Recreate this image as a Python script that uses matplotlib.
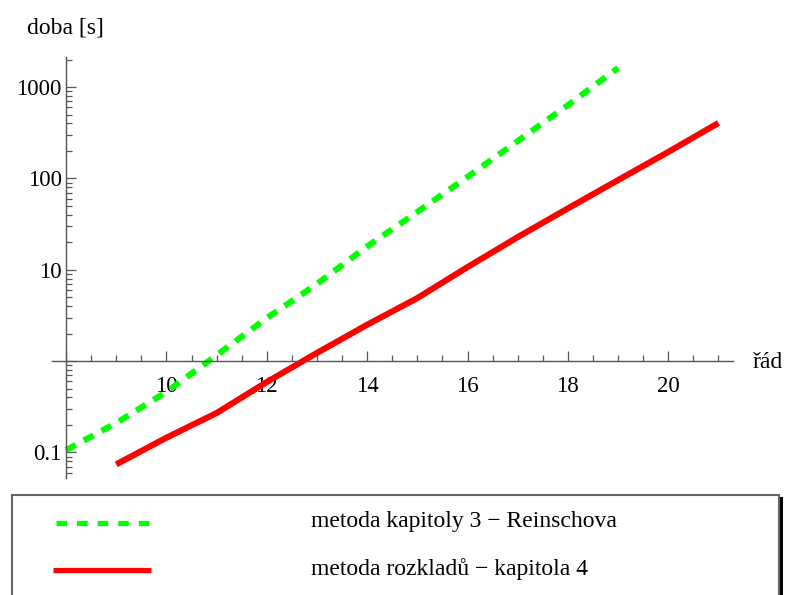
import matplotlib.pyplot as plt
import matplotlib.ticker as ticker
from matplotlib.lines import Line2D
from matplotlib.patches import Rectangle

plt.rcParams['font.family'] = ['Liberation Serif', 'DejaVu Serif']

# doba vypoctu v zavislosti na radu
rad_reinsch = [8, 9, 10, 11, 12, 13, 14, 15, 16, 17, 18, 19]
doba_reinsch = [0.106, 0.21, 0.46, 1.16, 2.96, 7.0, 18, 43, 104, 257, 635, 1620]

rad_rozklad = [9, 10, 11, 12, 13, 14, 15, 16, 17, 18, 19, 20, 21]
doba_rozklad = [0.074, 0.145, 0.27, 0.59, 1.23, 2.5, 4.9, 10.7, 22.8, 47, 96, 195, 405]

popisky = ["metoda kapitoly 3 \u2212 Reinschova", "metoda rozkladů \u2212 kapitola 4"]
zelena = '#00ff00'
cervena = '#ff0000'
osy = '#555555'

fig = plt.figure(figsize=(7.85, 5.95), dpi=100)
ax = fig.add_axes([52 / 785, 1 - 478 / 595, 681 / 785, 421 / 595])

ax.plot(rad_reinsch, doba_reinsch, color=zelena, lw=4.4, dashes=(1.8, 1.5),
        dash_capstyle='butt', solid_capstyle='butt', clip_on=False)
ax.plot(rad_rozklad, doba_rozklad, color=cervena, lw=4.4,
        solid_capstyle='butt', clip_on=False)

ax.set_yscale('log')
ax.set_xlim(7.72, 21.29)
ax.set_ylim(10 ** -1.28, 10 ** 3.33)

for s in ['top', 'right']:
    ax.spines[s].set_visible(False)
ax.spines['left'].set_position(('data', 8))
ax.spines['bottom'].set_position(('data', 1))
for s in ['left', 'bottom']:
    ax.spines[s].set_color(osy)
    ax.spines[s].set_linewidth(1.0)

ax.xaxis.set_major_locator(ticker.FixedLocator([8, 10, 12, 14, 16, 18, 20]))
ax.xaxis.set_minor_locator(ticker.MultipleLocator(0.5))
ax.xaxis.set_major_formatter(ticker.FuncFormatter(lambda v, p: '' if v == 8 else '%d' % v))
ax.yaxis.set_major_locator(ticker.FixedLocator([0.1, 1, 10, 100, 1000]))
ax.yaxis.set_minor_locator(ticker.LogLocator(base=10, subs=range(2, 10)))
ax.yaxis.set_major_formatter(ticker.FixedFormatter(['0.1', '', '10', '100', '1000']))
ax.yaxis.set_minor_formatter(ticker.NullFormatter())

ax.tick_params(which='both', direction='in', color=osy, labelsize=16.5, width=0.9)
ax.tick_params(which='major', length=7)
ax.tick_params(which='minor', length=4)
ax.tick_params(axis='x', pad=11)
ax.tick_params(axis='y', pad=3)

fig.text(27 / 785, 1 - 28 / 595, 'doba [s]', fontsize=17, va='center', ha='left')
fig.text(753 / 785, 1 - 362 / 595, 'řád', fontsize=17, va='center', ha='left')

# legenda pod grafem
fig.add_artist(Rectangle((782 / 785 - 3 / 785, -0.05), 4 / 785, 1 - 497 / 595 + 0.05,
                         transform=fig.transFigure, color='black', lw=0))
fig.add_artist(Rectangle((12 / 785, -0.05), 767 / 785, 1 - 495 / 595 + 0.05,
                         transform=fig.transFigure, facecolor='white',
                         edgecolor='#666666', lw=1.5))
fig.add_artist(Line2D([56 / 785, 149 / 785], [1 - 523 / 595] * 2, transform=fig.transFigure,
                      color=zelena, lw=3.8, dashes=(2.0, 1.9), dash_capstyle='butt'))
fig.add_artist(Line2D([53 / 785, 151 / 785], [1 - 570 / 595] * 2, transform=fig.transFigure,
                      color=cervena, lw=3.8, solid_capstyle='butt'))
fig.text(311 / 785, 1 - 522 / 595, popisky[0], fontsize=17, va='center', ha='left')
fig.text(311 / 785, 1 - 569 / 595, popisky[1], fontsize=17, va='center', ha='left')

fig.savefig('out.png', dpi=100)
